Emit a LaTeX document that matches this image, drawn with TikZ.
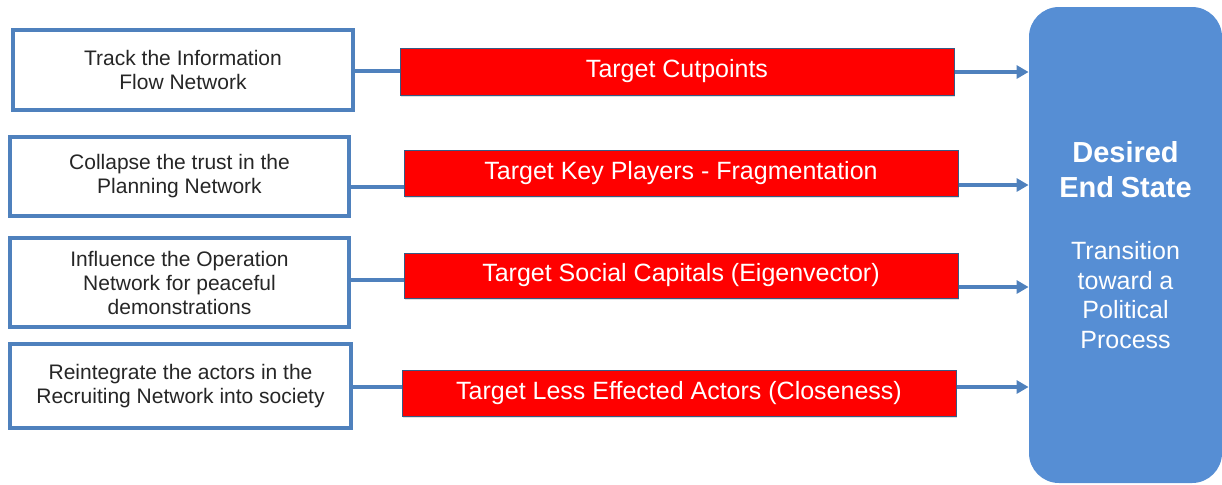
\documentclass[tikz,border=0pt]{standalone}
\usepackage{fontspec}
\setmainfont{Liberation Sans}
\usetikzlibrary{arrows.meta,shadows}
\definecolor{boxblue}{RGB}{79,129,189}
\definecolor{goalblue}{RGB}{86,142,212}
\definecolor{targetred}{RGB}{255,0,0}
\tikzset{
    task/.style = {
        draw = boxblue,
        line width = 1.6pt,
        fill = white,
        inner sep = 0pt,
        align = center,
        text = black!85,
        font = \fontsize{10.5}{12}\selectfont,
        drop shadow = {shadow xshift=0.6pt, shadow yshift=-1pt, opacity=0.25},
        },
    target/.style = {
        draw = boxblue!70!black,
        line width = 0.5pt,
        fill = targetred,
        text = white,
        inner sep = 0pt,
        minimum width = 277pt,
        font = \fontsize{12.5}{15}\selectfont,
        drop shadow = {shadow xshift=0.6pt, shadow yshift=-1pt, opacity=0.25},
        },
    goal/.style = {
        fill = goalblue,
        rounded corners = 15pt,
        inner sep = 0pt,
        minimum width = 96.5pt,
        minimum height = 238pt,
        text width = 90pt,
        align = center,
        text = white,
        },
    link/.style = {
        draw = boxblue,
        line width = 1.8pt,
        },
}

\begin{document}
\begin{tikzpicture}[x=0.5pt, y=-0.5pt]
    \useasboundingbox (0,0) rectangle (1222,484);

    \node[task, minimum width=170pt, minimum height=40pt] (l1) at (183,70)
        {Track the Information\\Flow Network};
    \node[task, minimum width=169.5pt, minimum height=39.5pt] (l2) at (179.5,176.5)
        {Collapse the trust in the\\Planning Network};
    \node[task, minimum width=169.5pt, minimum height=44.5pt] (l3) at (179.5,282.5)
        {Influence the Operation\\Network for peaceful\\demonstrations};
    \node[task, minimum width=170.5pt, minimum height=42pt] (l4) at (180.5,386)
        {Reintegrate the actors in the\\Recruiting Network into society};

    \node[target, minimum height=23.5pt] (t1) at (677,71.5) {Target Cutpoints};
    \node[target, minimum height=23pt] (t2) at (681,173) {Target Key Players - Fragmentation};
    \node[target, minimum height=22.5pt] (t3) at (681,275.5) {Target Social Capitals (Eigenvector)};
    \node[target, minimum height=23pt] (t4) at (679,393) {Target Less Effected Actors (Closeness)};

    \node[goal] (goal) at (1125.5,245) {%
        \fontsize{14.5}{17.5}\selectfont\bfseries Desired\\End State\par
        \vspace{16.25pt}
        \fontsize{12.5}{14.75}\selectfont\mdseries Transition\\toward a\\Political\\Process\par};

    % task -> target, target -> end state
    \foreach \i/\dl/\dr in {1/-0.5/-0.25, 2/-5.25/-6, 3/1.25/-5.75, 4/-0.5/3} {
        \draw[link] ([yshift=\dl pt]l\i.east) -- ([yshift=\dl pt]l\i.east -| t\i.west);
        \draw[link, -{Triangle[length=6pt, width=6.5pt]}]
            ([yshift=\dr pt]t\i.east) -- ([yshift=\dr pt]t\i.east -| goal.west);
    }
\end{tikzpicture}
\end{document}
